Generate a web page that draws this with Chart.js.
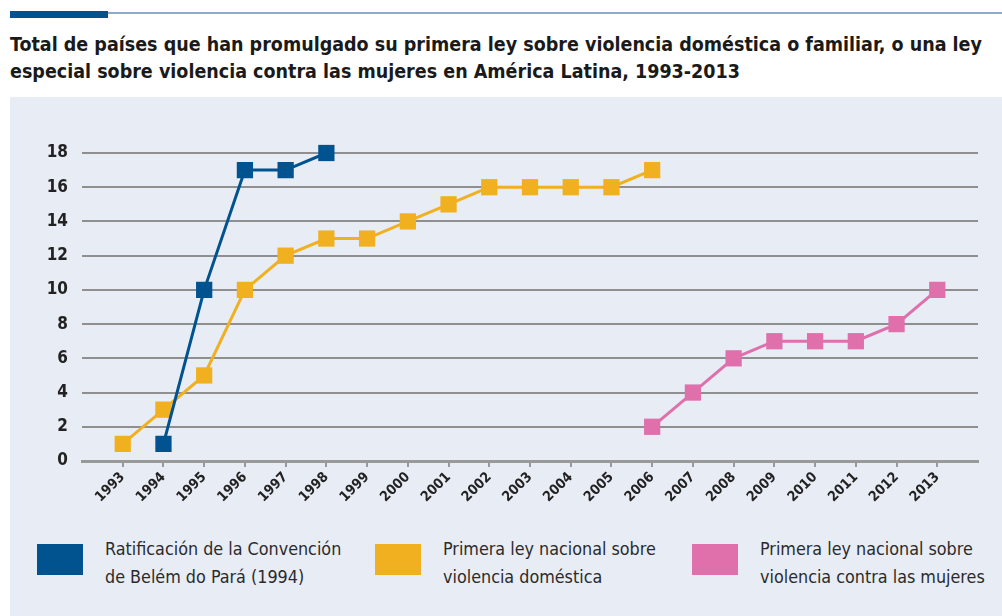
<!DOCTYPE html>
<html>
<head>
<meta charset="utf-8">
<script src="https://cdn.jsdelivr.net/npm/chart.js@4.4.1/dist/chart.umd.min.js"></script>
<style>
  html, body { margin:0; padding:0; background:#fff; width:1002px; height:616px; overflow:hidden; }
  #bar { position:absolute; left:10px; top:11px; width:98px; height:7px; background:#00538f; }
  #rule { position:absolute; left:10px; top:12px; width:992px; height:2px; background:#8eaad0; }
  #title { position:absolute; left:10px; top:31px; width:990px; font-family:"DejaVu Sans Condensed",sans-serif; font-weight:bold; font-size:19.5px; line-height:27px; color:#1a1a1a; }
  #panel { position:absolute; left:10px; top:97px; width:992px; height:519px; background:#e8ecf5; }
  #wrap { position:absolute; left:10px; top:97px; width:992px; height:423px; }
  .leg { position:absolute; top:535px; font-family:"DejaVu Sans Condensed",sans-serif; font-size:17.8px; line-height:28px; color:#2b2b2b; }
  .sw { position:absolute; width:46px; height:31px; top:544px; }
</style>
</head>
<body>
<div id="panel"></div>
<div id="rule"></div>
<div id="bar"></div>
<div id="title">Total de países que han promulgado su primera ley sobre violencia doméstica o familiar, o una ley<br>especial sobre violencia contra las mujeres en América Latina, 1993-2013</div>
<div id="wrap"><canvas id="c"></canvas></div>
<div id="legend"></div>
<script>
const yearLabels = ["1993","1994","1995","1996","1997","1998","1999","2000","2001","2002","2003","2004","2005","2006","2007","2008","2009","2010","2011","2012","2013"];
const belemYears = [1994,1995,1996,1997,1998];
const belemValues = [1,10,17,17,18];
const domesticYears = [1993,1994,1995,1996,1997,1998,1999,2000,2001,2002,2003,2004,2005,2006];
const domesticValues = [1,3,5,10,12,13,13,14,15,16,16,16,16,17];
const womenYears = [2006,2007,2008,2009,2010,2011,2012,2013];
const womenValues = [2,4,6,7,7,7,8,10];
const yTicks = [0,2,4,6,8,10,12,14,16,18];
const seriesNames = [
  ["Ratificación de la Convención","de Belém do Pará (1994)"],
  ["Primera ley nacional sobre","violencia doméstica"],
  ["Primera ley nacional sobre","violencia contra las mujeres"]
];
const colors = ["#00538f","#f0b020","#e070ac"];

const toPts = (xs, ys) => xs.map((x,i) => ({x:x, y:ys[i]}));
const fontFam = '"DejaVu Sans Condensed",sans-serif';

function ds(label, xs, ys, color){
  return {
    label: label, data: toPts(xs, ys),
    borderColor: color, backgroundColor: color,
    borderWidth: 3, pointStyle: 'rect', pointRadius: 11.5, pointHoverRadius: 11.5,
    pointBorderWidth: 0, tension: 0, clip: false
  };
}

new Chart(document.getElementById('c'), {
  type: 'line',
  data: {
    datasets: [
      ds(seriesNames[0].join(' '), belemYears, belemValues, colors[0]),
      ds(seriesNames[1].join(' '), domesticYears, domesticValues, colors[1]),
      ds(seriesNames[2].join(' '), womenYears, womenValues, colors[2])
    ]
  },
  options: {
    responsive: true, maintainAspectRatio: false, animation: false,
    layout: { padding: { top: 56, right: 24, left: 0, bottom: 0 } },
    plugins: { legend: { display: false }, tooltip: { enabled: false } },
    scales: {
      x: {
        type: 'linear', min: 1992, max: 2014,
        afterBuildTicks: (s) => { s.ticks = yearLabels.map(v => ({value: Number(v)})); },
        afterFit: (s) => { s.height = 59; },
        ticks: {
          autoSkip: false, maxRotation: 45, minRotation: 45, padding: 2,
          color: '#222', font: { family: fontFam, size: 14, weight: 'bold' },
          callback: (v) => yearLabels.includes(String(v)) ? String(v) : ''
        },
        grid: { drawOnChartArea: false, drawTicks: true, tickLength: 6, color: '#999', lineWidth: 2 },
        border: { display: true, color: '#999', width: 3 }
      },
      y: {
        min: 0, max: 18,
        afterBuildTicks: (s) => { s.ticks = yTicks.map(v => ({value: v})); },
        afterFit: (s) => { s.width = 72; },
        ticks: { padding: 14, color: '#222', font: { family: fontFam, size: 17, weight: 'bold' } },
        grid: { color: '#8f8f8f', lineWidth: 2, drawTicks: false },
        border: { display: false }
      }
    }
  }
});

const legendEl = document.getElementById('legend');
const legPos = [[37,105],[375,443],[692,760]];
seriesNames.forEach((lines, i) => {
  const sw = document.createElement('div');
  sw.className = 'sw'; sw.style.left = legPos[i][0] + 'px'; sw.style.background = colors[i];
  const t = document.createElement('div');
  t.className = 'leg'; t.style.left = legPos[i][1] + 'px';
  t.innerHTML = lines.join('<br>');
  legendEl.appendChild(sw); legendEl.appendChild(t);
});
</script>
</body>
</html>
